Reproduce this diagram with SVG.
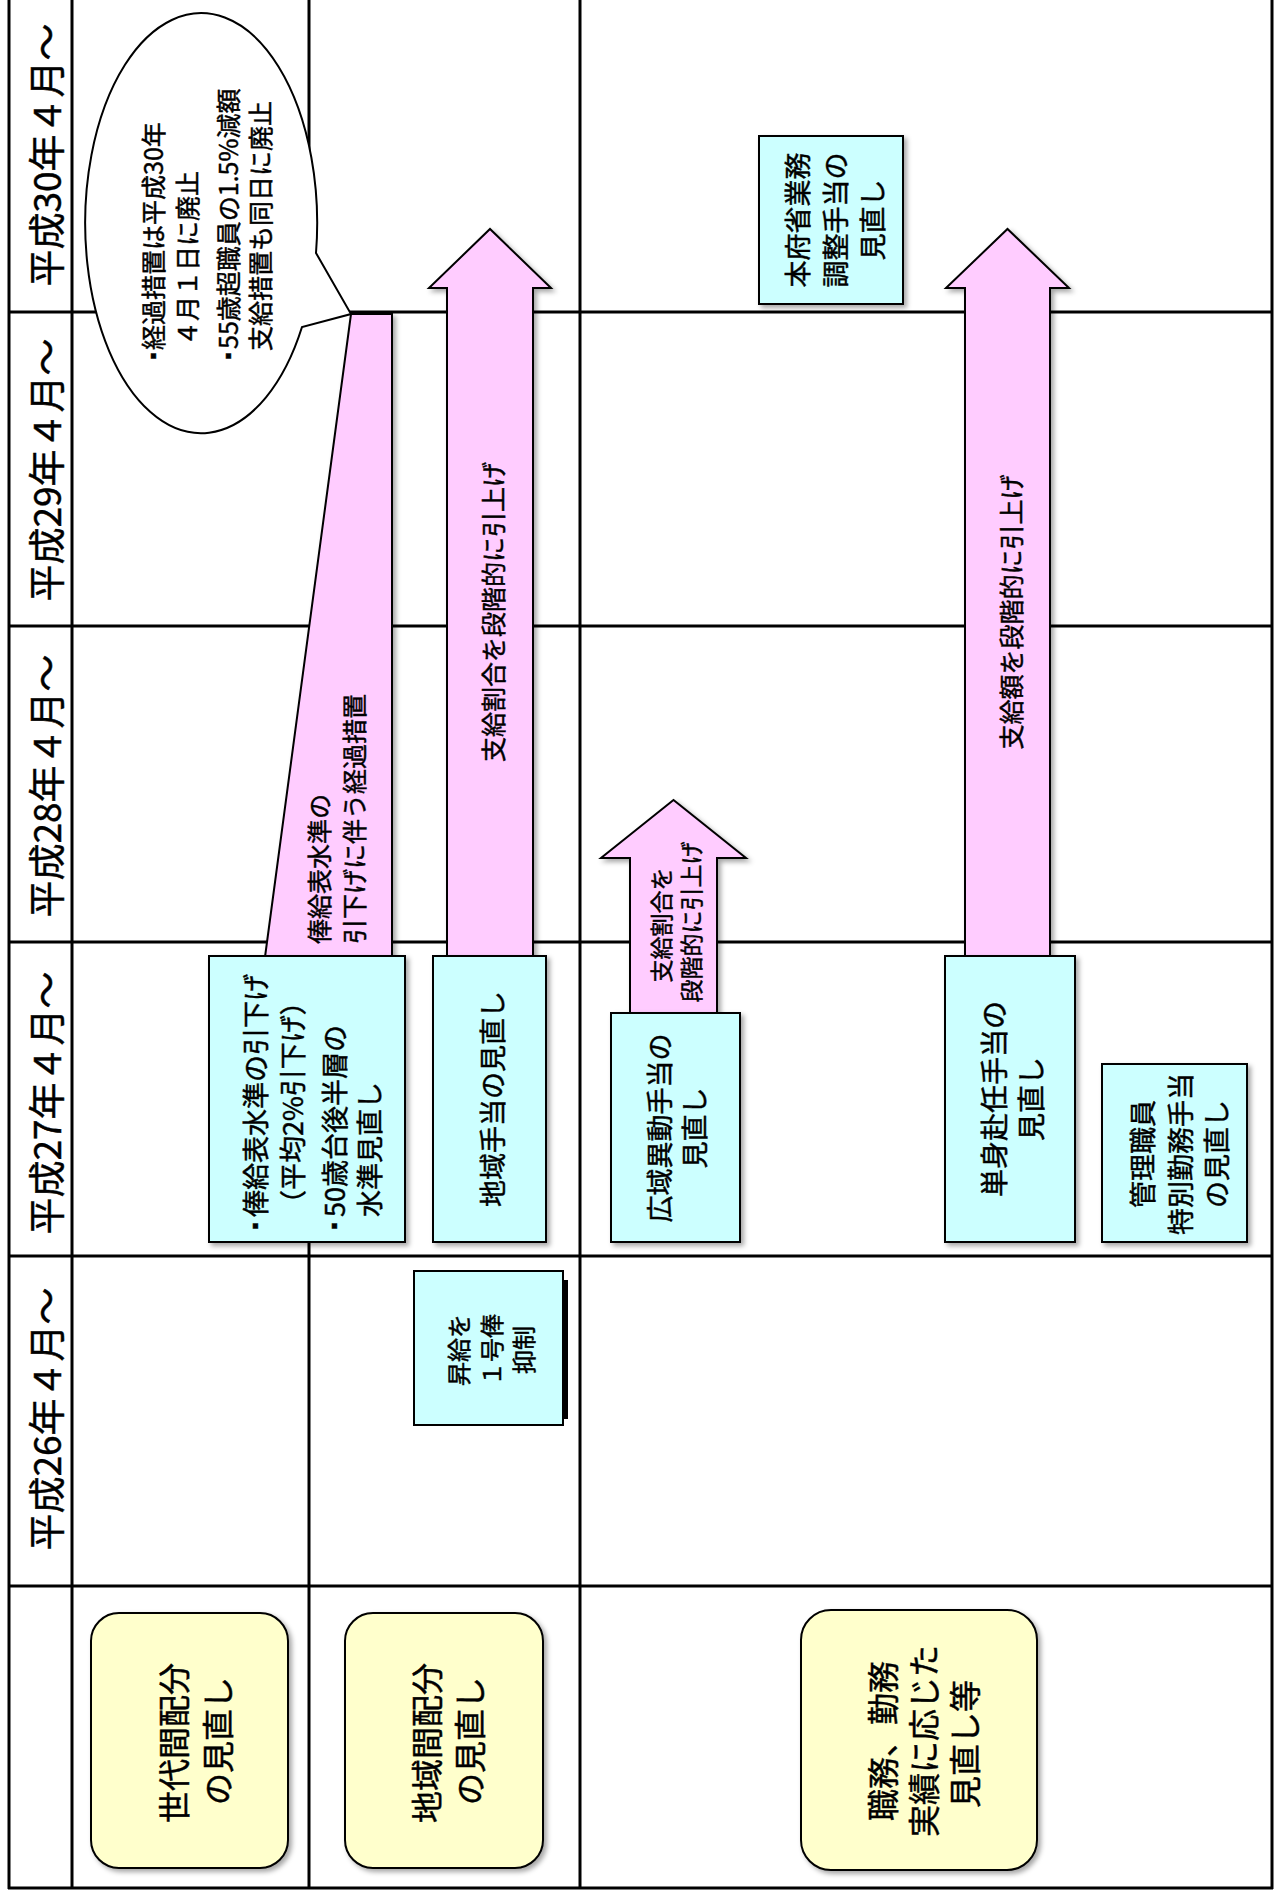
<svg xmlns="http://www.w3.org/2000/svg" width="1280" height="1892" viewBox="0 0 1280 1892">
<defs>
<filter id="sh" x="-20%" y="-10%" width="140%" height="120%">
<feDropShadow dx="3" dy="3" stdDeviation="2.5" flood-color="#000" flood-opacity="0.35"/>
</filter>
<style>
.grid{stroke:#000;stroke-width:3;fill:none}
.box{fill:#CCFFFF;stroke:#000;stroke-width:2;filter:url(#sh)}
.cat{fill:#FFFFCC;stroke:#000;stroke-width:2;filter:url(#sh)}
.arr{fill:#FFCCFF;stroke:#000;stroke-width:2;filter:url(#sh)}
.call{fill:#fff;stroke:#000;stroke-width:2}
text{font-family:"Noto Sans CJK JP","Noto Sans CJK SC",sans-serif;fill:#000;stroke:#000;stroke-width:0.45;dominant-baseline:central}
.yr{font-size:37px;text-anchor:middle}
.c32{font-size:32px;text-anchor:middle}
.c28{font-size:28px;text-anchor:middle}
.c27{font-size:27px;text-anchor:middle}
.s27{font-size:27px;text-anchor:start}
.c25{font-size:25px;text-anchor:middle}
.s25{font-size:25px;text-anchor:start}
.c24{font-size:24px;text-anchor:middle}
.c23{font-size:23px;text-anchor:middle}
.bul{font-size:18px;text-anchor:middle}
</style>
</defs>
<rect width="1280" height="1892" fill="#fff"/>

<g id="grid" class="grid">
<line x1="9" y1="0" x2="9" y2="1889"/>
<line x1="72" y1="0" x2="72" y2="1889"/>
<line x1="309" y1="0" x2="309" y2="312"/>
<line x1="309" y1="1100" x2="309" y2="1889"/>
<line x1="580" y1="0" x2="580" y2="1889"/>
<line x1="1272" y1="0" x2="1272" y2="1889"/>
<line x1="8" y1="312" x2="1273" y2="312"/>
<line x1="8" y1="626" x2="1273" y2="626"/>
<line x1="8" y1="942" x2="1273" y2="942"/>
<line x1="8" y1="1256" x2="1273" y2="1256"/>
<line x1="8" y1="1586" x2="1273" y2="1586"/>
<line x1="8" y1="1888" x2="1273" y2="1888"/>
</g>

<g id="years">
<text class="yr" transform="translate(45,155) rotate(-90)">平成30年４月～</text>
<text class="yr" transform="translate(45,470) rotate(-90)">平成29年４月～</text>
<text class="yr" transform="translate(45,786) rotate(-90)">平成28年４月～</text>
<text class="yr" transform="translate(45,1103) rotate(-90)">平成27年４月～</text>
<text class="yr" transform="translate(45,1419) rotate(-90)">平成26年４月～</text>
</g>

<g id="connectors">
<g id="arrow-transition">
<polygon class="arr" points="351,314 392,314 392,957 265,957"/>
<text class="s25" transform="translate(318,944) rotate(-90)">俸給表水準の</text>
<text class="s25" transform="translate(353,944) rotate(-90)">引下げに伴う経過措置</text>
</g>
<g id="arrow-chiiki">
<polygon class="arr" points="447,957 447,288 429,288 490,229 551,288 533,288 533,957"/>
<text class="c25" transform="translate(492,612) rotate(-90)">支給割合を段階的に引上げ</text>
</g>
<g id="arrow-koiki">
<polygon class="arr" points="630,1014 630,858 601,858 673.5,800 746,858 717,858 717,1014"/>
<text class="c23" transform="translate(660,925) rotate(-90)">支給割合を</text>
<text class="c23" transform="translate(690,922) rotate(-90)">段階的に引上げ</text>
</g>
<g id="arrow-tanshin">
<polygon class="arr" points="965,957 965,288 946,288 1007.5,229 1069,288 1050,288 1050,957"/>
<text class="c25" transform="translate(1010,612) rotate(-90)">支給額を段階的に引上げ</text>
</g>
</g>

<g id="callout">
<path class="call" d="M316,253 L351,314 L302,327 A116,210 0 1 1 316,253 Z"/>
<text class="bul" transform="translate(152,356) rotate(-90)">▪</text>
<text class="s25" transform="translate(152,350) rotate(-90)">経過措置は平成30年</text>
<text class="s25" transform="translate(186,346) rotate(-90)">４月１日に廃止</text>
<text class="bul" transform="translate(227,356) rotate(-90)">▪</text>
<text class="s25" transform="translate(227,349) rotate(-90)">55歳超職員の1.5%減額</text>
<text class="s25" transform="translate(259,351) rotate(-90)">支給措置も同日に廃止</text>
</g>

<g id="node-honfusho">
<rect class="box" x="759" y="136" width="144" height="168"/>
<text class="c27" transform="translate(796,220) rotate(-90)">本府省業務</text>
<text class="c27" transform="translate(834,220) rotate(-90)">調整手当の</text>
<text class="c27" transform="translate(871,220) rotate(-90)">見直し</text>
</g>

<g id="node-hokyu">
<rect class="box" x="209" y="956" width="196" height="286"/>
<text class="bul" transform="translate(254,1226) rotate(-90)">▪</text>
<text class="s27" transform="translate(254,1217) rotate(-90)">俸給表水準の引下げ</text>
<text class="s27" transform="translate(291,1217) rotate(-90)">（平均2%引下げ）</text>
<text class="bul" transform="translate(333,1226) rotate(-90)">▪</text>
<text class="s27" transform="translate(333,1217) rotate(-90)">50歳台後半層の</text>
<text class="s27" transform="translate(368,1217) rotate(-90)">水準見直し</text>
</g>

<g id="node-chiiki">
<rect class="box" x="433" y="956" width="113" height="286"/>
<text class="c27" transform="translate(491,1099) rotate(-90)">地域手当の見直し</text>
</g>

<g id="node-koiki">
<rect class="box" x="611" y="1013" width="129" height="229"/>
<text class="c27" transform="translate(658,1128) rotate(-90)">広域異動手当の</text>
<text class="c27" transform="translate(693,1128) rotate(-90)">見直し</text>
</g>

<g id="node-tanshin">
<rect class="box" x="945" y="956" width="130" height="286"/>
<text class="c28" transform="translate(993,1099) rotate(-90)">単身赴任手当の</text>
<text class="c28" transform="translate(1030,1099) rotate(-90)">見直し</text>
</g>

<g id="node-kanri">
<rect class="box" x="1102" y="1064" width="145" height="178"/>
<text class="c27" transform="translate(1141,1154) rotate(-90)">管理職員</text>
<text class="c27" transform="translate(1179,1154) rotate(-90)">特別勤務手当</text>
<text class="c27" transform="translate(1215,1154) rotate(-90)">の見直し</text>
</g>

<g id="node-shokyu">
<rect x="563" y="1280" width="5" height="139" fill="#000"/>
<rect x="414" y="1271" width="149" height="154" fill="#CCFFFF" stroke="#000" stroke-width="2"/>
<text class="c24" transform="translate(457,1350) rotate(-90)">昇給を</text>
<text class="c24" transform="translate(490,1350) rotate(-90)">１号俸</text>
<text class="c24" transform="translate(522,1350) rotate(-90)">抑制</text>
</g>

<g id="node-sedai">
<rect class="cat" x="91" y="1613" width="197" height="255" rx="28"/>
<text class="c32" transform="translate(172,1743) rotate(-90)">世代間配分</text>
<text class="c32" transform="translate(216,1741) rotate(-90)">の見直し</text>
</g>

<g id="node-chiikikan">
<rect class="cat" x="345" y="1613" width="198" height="255" rx="28"/>
<text class="c32" transform="translate(425,1743) rotate(-90)">地域間配分</text>
<text class="c32" transform="translate(468,1741) rotate(-90)">の見直し</text>
</g>

<g id="node-shokumu">
<rect class="cat" x="801" y="1610" width="236" height="260" rx="30"/>
<text class="c32" transform="translate(881,1741) rotate(-90)">職務、勤務</text>
<text class="c32" transform="translate(922,1741) rotate(-90)">実績に応じた</text>
<text class="c32" transform="translate(963,1744) rotate(-90)">見直し等</text>
</g>
</svg>
